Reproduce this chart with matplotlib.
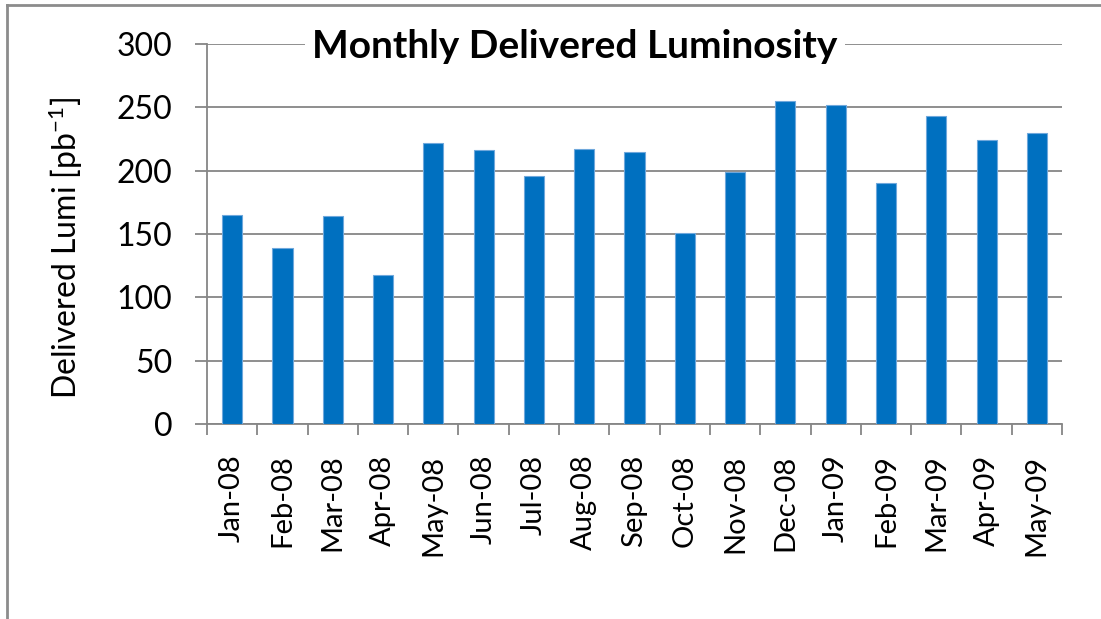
import numpy as np
import matplotlib.pyplot as plt
from matplotlib.lines import Line2D
from matplotlib.ticker import FixedLocator

plt.rcParams['font.family'] = ['Lato', 'DejaVu Sans']
plt.rcParams['mathtext.default'] = 'regular'

# monthly delivered luminosity, pb^-1
months = ["Jan-08", "Feb-08", "Mar-08", "Apr-08", "May-08", "Jun-08", "Jul-08",
          "Aug-08", "Sep-08", "Oct-08", "Nov-08", "Dec-08", "Jan-09", "Feb-09",
          "Mar-09", "Apr-09", "May-09"]
lumi = [165, 139, 164, 118, 222, 216, 196, 217, 215, 151, 199, 255, 252, 190,
        243, 224, 230]

W, H = 1101, 619
fig = plt.figure(figsize=(W / 100, H / 100), dpi=100)
ax = fig.add_axes([207 / W, 1 - 424 / H, (1062 - 207) / W, (424 - 44) / H])

x = np.arange(len(months))
ax.bar(x, lumi, width=0.4, color="#0070C0", edgecolor="#6FA8DC", linewidth=0.8, zorder=3)

grid_col = "#868686"
ax.set_ylim(0, 300)
ax.set_xlim(-0.5, len(months) - 0.5)
ax.set_yticks(np.arange(0, 301, 50))
ax.yaxis.grid(True, color=grid_col, linewidth=1.3, zorder=0)
ax.tick_params(axis="y", labelsize=23, length=9, width=1.3, color=grid_col, pad=16)

ax.set_xticks(x)
ax.set_xticklabels(months, rotation=90, fontsize=21)
ax.tick_params(axis="x", which="major", length=0, pad=22)
ax.xaxis.set_minor_locator(FixedLocator(np.arange(-0.5, len(months), 1.0)))
ax.tick_params(axis="x", which="minor", length=8, width=1.3, color=grid_col)

for s in ["top", "right"]:
    ax.spines[s].set_visible(False)
for s in ["left", "bottom"]:
    ax.spines[s].set_color(grid_col)
    ax.spines[s].set_linewidth(1.3)

ax.set_ylabel("Delivered Lumi [pb$^{-1}$]", fontsize=23)
ax.yaxis.set_label_coords(-0.143, 0.465)

fig.text(575 / W, 1 - 47 / H, "Monthly Delivered Luminosity", fontsize=28,
         fontweight="bold", ha="center", va="center",
         bbox=dict(facecolor="white", edgecolor="none", pad=5))

# outer frame (only left and top edges are inside the picture)
fig.add_artist(Line2D([7 / W, 7 / W], [0, 1 - 5 / H], color="#8C8C8C", linewidth=2))
fig.add_artist(Line2D([7 / W, 1], [1 - 5 / H, 1 - 5 / H], color="#8C8C8C", linewidth=2))

fig.savefig("out.png", dpi=100, facecolor="white")
